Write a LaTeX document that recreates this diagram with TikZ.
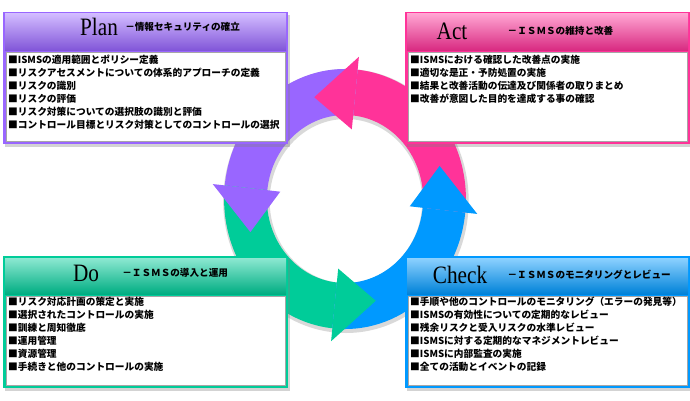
\documentclass[tikz,border=0pt]{standalone}
\usepackage{fontspec}
\newfontfamily\jp{Noto Sans CJK JP}
\newfontfamily\titlefont{Liberation Serif}[FakeStretch=0.85]
\usetikzlibrary{positioning,shadows}
\definecolor{plancol}{RGB}{153,102,255}
\definecolor{actcol}{RGB}{255,51,153}
\definecolor{docol}{RGB}{0,204,153}
\definecolor{checkcol}{RGB}{0,153,255}

\begin{document}
\begin{tikzpicture}[x=1pt,y=1pt,node distance=10pt]
  \tikzstyle{outer}=[drop shadow={opacity=.35,shadow xshift=2pt,shadow yshift=-3pt}]
  \tikzstyle{body}=[fill=white,draw=black!35,line width=.8pt]
  \tikzstyle{head}=[font=\titlefont\fontsize{25}{25}\selectfont,inner sep=0pt]
  \tikzstyle{sub}=[font=\jp\bfseries\fontsize{9.6}{10}\selectfont,inner sep=0pt,anchor=west]
  \tikzstyle{items}=[font=\jp\bfseries\fontsize{9.7}{12.9}\selectfont,align=left,
                     anchor=north west,inner sep=0pt]

  \useasboundingbox (0,0) rectangle (690,400);

  % cycle
  \begin{scope}[shift={(345,201)},xscale=.93]
    \fill[black!15,even odd rule] (1,-2) circle (132) (1,-2) circle (82);
    \foreach \e/\c [evaluate=\e as \s using \e-90] in {84/actcol,174/plancol,264/docol,354/checkcol}
      \fill[\c] (\s:130) arc[start angle=\s,end angle=\e,radius=130]
        -- (\e:84) arc[start angle=\e,end angle=\s,radius=84] -- cycle;
    \foreach \e/\c [evaluate=\e as \t using \e+24] in {84/actcol,174/plancol,264/docol,354/checkcol}
      \fill[\c] (\e:143) -- (\t:107) -- (\e:70) -- cycle;
  \end{scope}

  % boxes
  \foreach \x/\y/\c in {3/256/plancol,405/256/actcol,3/12/docol,405/12/checkcol}{
    \fill[\c,outer] (\x,\y) rectangle ++(285,132);
    \shade[top color=\c!45!white,bottom color=\c!85!black] (\x+2,\y+94) rectangle ++(281,36);
    \filldraw[body] (\x+3,\y+3) rectangle ++(279,89);
  }

  \node[head] (P) at (99,373) {Plan};
  \node[sub] (p) [right=7pt of P] {－情報セキュリティの確立};
  \node[items] (pl) at (8,345) {■ISMSの適用範囲とポリシー定義\\
    ■リスクアセスメントについての体系的アプローチの定義\\
    ■リスクの識別\\
    ■リスクの評価\\
    ■リスク対策についての選択肢の識別と評価\\
    ■コントロール目標とリスク対策としてのコントロールの選択};

  \node[head] (A) at (452,369) {Act};
  \node[sub] (a) [right=40pt of A] {－ＩＳＭＳの維持と改善};
  \node[items] (al) at (410,345) {■ISMSにおける確認した改善点の実施\\
    ■適切な是正・予防処置の実施\\
    ■結果と改善活動の伝達及び関係者の取りまとめ\\
    ■改善が意図した目的を達成する事の確認};

  \node[head] (D) at (86,127) {Do};
  \node[sub] (d) [right=23pt of D] {－ＩＳＭＳの導入と運用};
  \node[items] (dl) at (8,103) {■リスク対応計画の策定と実施\\
    ■選択されたコントロールの実施\\
    ■訓練と周知徹底\\
    ■運用管理\\
    ■資源管理\\
    ■手続きと他のコントロールの実施};

  \node[head] (C) at (460,125) {Check};
  \node[sub] (c) [right=20pt of C] {－ＩＳＭＳのモニタリングとレビュー};
  \node[items] (cl) at (410,103) {■手順や他のコントロールのモニタリング（エラーの発見等）\\
    ■ISMSの有効性についての定期的なレビュー\\
    ■残余リスクと受入リスクの水準レビュー\\
    ■ISMSに対する定期的なマネジメントレビュー\\
    ■ISMSに内部監査の実施\\
    ■全ての活動とイベントの記録};
\end{tikzpicture}
\end{document}
